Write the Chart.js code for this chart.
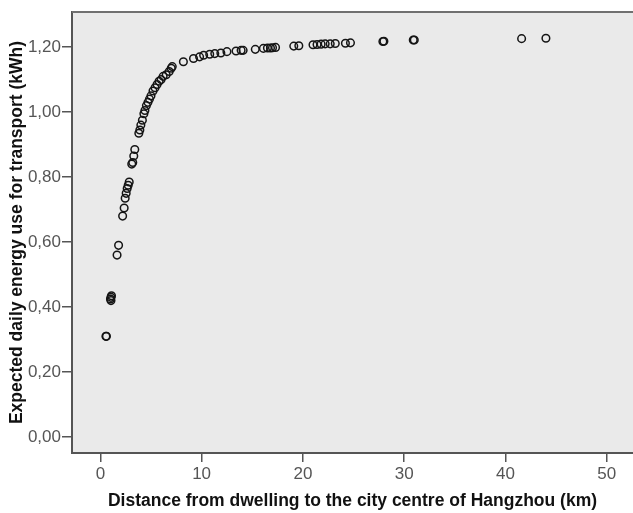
<!DOCTYPE html>
<html>
<head>
<meta charset="utf-8">
<script src="https://cdn.jsdelivr.net/npm/chart.js@4.4.1/dist/chart.umd.min.js"></script>
<style>
  html, body { margin: 0; padding: 0; background: #fff; }
  #wrap { width: 633px; height: 513px; }
</style>
</head>
<body>
<div id="wrap"><canvas id="scatter" width="633" height="513"></canvas></div>
<script>
// distance from dwelling to city centre (km)
const distKm = [
  0.55, 0.6,
  1.0, 1.05, 1.1, 1.05,
  1.65, 1.8,
  2.2, 2.35, 2.45, 2.55, 2.65, 2.75, 2.85,
  3.1, 3.2, 3.3, 3.4,
  3.8, 3.9, 4.0, 4.15, 4.3, 4.4, 4.55, 4.7, 4.85, 5.0, 5.2, 5.4, 5.6, 5.8, 6.0, 6.2, 6.5, 6.8, 7.0, 7.1,
  8.2, 9.2, 9.8, 10.2, 10.8, 11.3, 11.9, 12.5, 13.4, 13.9, 14.1, 15.3, 16.1, 16.5, 16.8, 17.0, 17.3,
  19.1, 19.6,
  21.0, 21.4, 21.8, 22.2, 22.7, 23.2,
  24.2, 24.7,
  27.9, 28.0,
  30.9, 31.0,
  41.6, 44.0
];

// expected daily energy use for transport (kWh)
const energyKwh = [
  0.31, 0.31,
  0.425, 0.43, 0.435, 0.42,
  0.56, 0.59,
  0.68, 0.705, 0.735, 0.75, 0.765, 0.775, 0.785,
  0.84, 0.845, 0.865, 0.885,
  0.935, 0.945, 0.96, 0.975, 0.995, 1.005, 1.02, 1.03, 1.04, 1.05, 1.065, 1.075, 1.085, 1.095, 1.10, 1.11, 1.115, 1.125, 1.135, 1.14,
  1.155, 1.165, 1.17, 1.175, 1.178, 1.18, 1.182, 1.186, 1.188, 1.19, 1.19, 1.193, 1.196, 1.197, 1.197, 1.198, 1.199,
  1.203, 1.204,
  1.207, 1.208, 1.209, 1.21, 1.21, 1.211,
  1.212, 1.213,
  1.217, 1.218,
  1.222, 1.222,
  1.226, 1.227
];

const xTicks = [0, 10, 20, 30, 40, 50];
const yTicks = [0, 0.2, 0.4, 0.6, 0.8, 1.0, 1.2];

const points = distKm.map((d, i) => ({ x: d, y: energyKwh[i] }));

// grey plot panel with a frame line along the top
const panel = {
  id: 'panel',
  beforeDraw(chart) {
    const { ctx, chartArea: a } = chart;
    ctx.save();
    ctx.fillStyle = '#fff';
    ctx.fillRect(0, 0, chart.width, chart.height);
    ctx.fillStyle = '#eaeaea';
    ctx.fillRect(a.left, a.top, a.right - a.left, a.bottom - a.top);
    ctx.restore();
  },
  afterDraw(chart) {
    const { ctx, chartArea: a } = chart;
    ctx.save();
    ctx.strokeStyle = '#707070';
    ctx.lineWidth = 2;
    ctx.beginPath();
    ctx.moveTo(a.left, a.top);
    ctx.lineTo(a.right, a.top);
    ctx.stroke();
    ctx.restore();
  }
};

const tickFont = { family: '"Liberation Sans Narrow", "Arial Narrow", sans-serif', size: 17 };
const titleFont = { family: '"Liberation Sans", Arial, sans-serif', size: 17.5, weight: 'bold' };

new Chart(document.getElementById('scatter'), {
  type: 'scatter',
  data: {
    datasets: [{
      data: points,
      pointStyle: 'circle',
      pointRadius: 3.8,
      pointBorderWidth: 1.5,
      pointBorderColor: '#151515',
      pointBackgroundColor: 'rgba(0,0,0,0)'
    }]
  },
  options: {
    responsive: false,
    animation: false,
    layout: { autoPadding: false, padding: { top: 12, right: 0, left: 0, bottom: 0 } },
    plugins: { legend: { display: false }, tooltip: { enabled: false } },
    scales: {
      x: {
        type: 'linear',
        min: -2.8,
        max: 52.6,
        afterBuildTicks: s => { s.ticks = xTicks.map(v => ({ value: v })); },
        afterFit: s => { s.height = 60; s.paddingLeft = 0; s.paddingRight = 0; },
        grid: { drawOnChartArea: false, drawTicks: true, tickLength: 9, color: '#555', lineWidth: 1.5 },
        border: { display: true, color: '#555', width: 2 },
        ticks: { font: tickFont, color: '#555', padding: 2, maxRotation: 0 },
        title: {
          display: true,
          text: 'Distance from dwelling to the city centre of Hangzhou (km)',
          font: titleFont,
          color: '#111',
          padding: { top: 0, bottom: 1 }
        }
      },
      y: {
        type: 'linear',
        min: -0.049,
        max: 1.308,
        afterBuildTicks: s => { s.ticks = yTicks.map(v => ({ value: v })); },
        afterFit: s => { s.width = 72; s.paddingTop = 0; s.paddingBottom = 0; },
        grid: { drawOnChartArea: false, drawTicks: true, tickLength: 10, color: '#555', lineWidth: 1.5 },
        border: { display: true, color: '#555', width: 2 },
        ticks: {
          font: tickFont,
          color: '#555',
          padding: 1,
          callback: v => v.toFixed(2).replace('.', ',')
        },
        title: {
          display: true,
          text: 'Expected daily energy use for transport (kWh)',
          font: titleFont,
          color: '#111',
          padding: { top: 7, bottom: 0 }
        }
      }
    }
  },
  plugins: [panel]
});
</script>
</body>
</html>
